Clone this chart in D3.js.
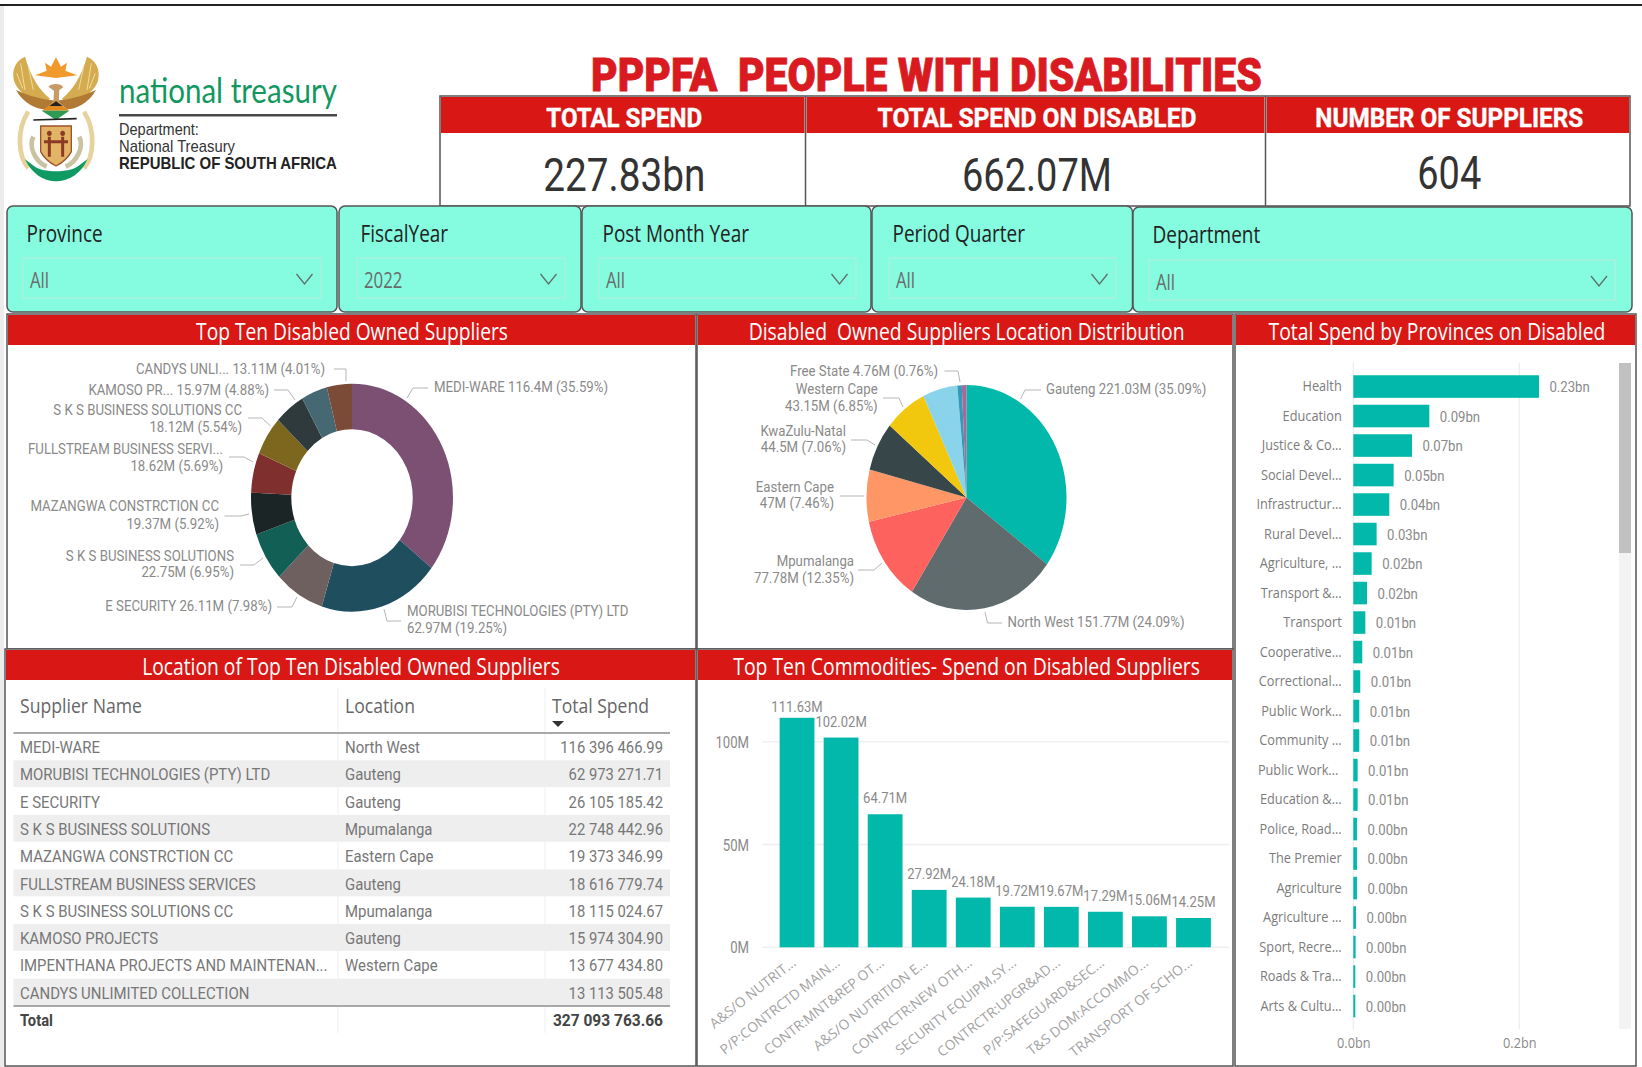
<!DOCTYPE html>
<html>
<head>
<meta charset="utf-8">
<title>PPPFA People With Disabilities</title>
<script src="https://cdn.jsdelivr.net/npm/d3@7"></script>
<style>
  html, body { margin: 0; padding: 0; background: #fff; }
  svg { display: block; }
  text { white-space: pre; }
</style>
</head>
<body>
<div id="chart"></div>
<script>
// data
var kpiTitles = ['TOTAL SPEND', 'TOTAL SPEND ON DISABLED', 'NUMBER OF SUPPLIERS'];
var kpiValues = ['227.83bn', '662.07M', '604'];

var slicerTitles = ['Province', 'FiscalYear', 'Post Month Year', 'Period Quarter', 'Department'];
var slicerValues = ['All', '2022', 'All', 'All', 'All'];

var donutNames = ['MEDI-WARE', 'MORUBISI TECHNOLOGIES (PTY) LTD', 'E SECURITY', 'S K S BUSINESS SOLUTIONS',
  'MAZANGWA CONSTRCTION CC', 'FULLSTREAM BUSINESS SERVI...', 'S K S BUSINESS SOLUTIONS CC', 'KAMOSO PR...',
  'IMPENTHANA', 'CANDYS UNLI...'];
var donutValues = [116.4, 62.97, 26.11, 22.75, 19.37, 18.62, 18.12, 15.97, 13.68, 13.11];
var donutValueLabels = ['116.4M', '62.97M', '26.11M', '22.75M', '19.37M', '18.62M', '18.12M', '15.97M', '', '13.11M'];
var donutPercents = ['35.59%', '19.25%', '7.98%', '6.95%', '5.92%', '5.69%', '5.54%', '4.88%', '', '4.01%'];
var donutColors = ['#7b5073', '#1f4e5f', '#6f6060', '#115f55', '#1c2526', '#7e2f2e', '#7d661d', '#2f3a3d', '#456873', '#7c4b37'];

var pieNames = ['Gauteng', 'North West', 'Mpumalanga', 'Eastern Cape', 'KwaZulu-Natal', 'Western Cape', 'Limpopo', 'Northern Cape', 'Free State'];
var pieValues = [221.03, 151.77, 77.78, 47, 44.5, 43.15, 35.4, 4.5, 4.76];
var pieValueLabels = ['221.03M', '151.77M', '77.78M', '47M', '44.5M', '43.15M', '', '', '4.76M'];
var piePercents = ['35.09%', '24.09%', '12.35%', '7.46%', '7.06%', '6.85%', '', '', '0.76%'];
var pieColors = ['#01b8aa', '#5f6b6d', '#fd625e', '#fe9666', '#374649', '#f2c80f', '#8ad4eb', '#3599b8', '#a66999'];

var tableSuppliers = ['MEDI-WARE', 'MORUBISI TECHNOLOGIES (PTY) LTD', 'E SECURITY', 'S K S BUSINESS SOLUTIONS',
  'MAZANGWA CONSTRCTION CC', 'FULLSTREAM BUSINESS SERVICES', 'S K S BUSINESS SOLUTIONS CC', 'KAMOSO PROJECTS',
  'IMPENTHANA PROJECTS AND MAINTENAN...', 'CANDYS UNLIMITED COLLECTION'];
var tableLocations = ['North West', 'Gauteng', 'Gauteng', 'Mpumalanga', 'Eastern Cape', 'Gauteng', 'Mpumalanga', 'Gauteng', 'Western Cape', ''];
var tableSpend = [116396466.99, 62973271.71, 26105185.42, 22748442.96, 19373346.99, 18616779.74, 18115024.67, 15974304.90, 13677434.80, 13113505.48];
var tableTotal = 327093763.66;

var commodityNames = ['A&S/O NUTRIT...', 'P/P:CONTRCTD MAIN...', 'CONTR:MNT&REP OT...', 'A&S/O NUTRITION E...', 'CONTRCTR:NEW OTH...',
  'SECURITY EQUIPM,SY...', 'CONTRCTR:UPGR&AD...', 'P/P:SAFEGUARD&SEC...', 'T&S DOM:ACCOMMO...', 'TRANSPORT OF SCHO...'];
var commodityValues = [111.63, 102.02, 64.71, 27.92, 24.18, 19.72, 19.67, 17.29, 15.06, 14.25];
var commodityTicks = [0, 50, 100];

var deptNames = ['Health', 'Education', 'Justice & Co...', 'Social Devel...', 'Infrastructur...', 'Rural Devel...', 'Agriculture, ...',
  'Transport &...', 'Transport', 'Cooperative...', 'Correctional...', 'Public Work...', 'Community ...', 'Public Work... ', 'Education &...',
  'Police, Road...', 'The Premier', 'Agriculture', 'Agriculture ...', 'Sport, Recre...', 'Roads & Tra...', 'Arts & Cultu...'];
var deptValues = [0.2237, 0.0916, 0.0707, 0.0486, 0.0434, 0.0281, 0.0221, 0.0165, 0.0145, 0.0108, 0.0084,
  0.0072, 0.0072, 0.0052, 0.0052, 0.0044, 0.0044, 0.0044, 0.0032, 0.0028, 0.0024, 0.0024];
var deptLabels = ['0.23bn', '0.09bn', '0.07bn', '0.05bn', '0.04bn', '0.03bn', '0.02bn', '0.02bn', '0.01bn', '0.01bn', '0.01bn',
  '0.01bn', '0.01bn', '0.01bn', '0.01bn', '0.00bn', '0.00bn', '0.00bn', '0.00bn', '0.00bn', '0.00bn', '0.00bn'];
var deptTicks = [0, 0.2];

var RED = '#d91715', MINT = '#85fbdf', TEAL = '#01b8aa', BORDER = '#555';
var DIN = 'Roboto, sans-serif', SEGOE = '"Open Sans", sans-serif';

var svg = d3.select('#chart').append('svg').attr('width', 1642).attr('height', 1067);

// text helper. the screenshot is stretched so everything is squeezed in x
function txt(parent, x, y, s, o) {
  o = o || {};
  var t = parent.append('text')
    .attr('text-anchor', o.anchor || 'start')
    .style('font-family', o.font || DIN)
    .style('font-size', (o.size || 14) + 'px')
    .style('font-weight', o.weight || 400)
    .style('fill', o.fill || '#888')
    .text(s);
  if (o.stroke) t.style('stroke', o.fill).style('stroke-width', o.stroke);
  var sx = o.sx || 1;
  if (o.w) sx = o.w / t.node().getComputedTextLength();
  t.attr('transform', 'translate(' + x + ',' + y + ') scale(' + sx + ',1)');
  return t;
}

// page frame
svg.append('rect').attr('x', 0).attr('y', 6).attr('width', 4).attr('height', 1061).attr('fill', '#ececec');
svg.append('rect').attr('x', 0).attr('y', 4).attr('width', 1642).attr('height', 2).attr('fill', '#222');

// logo (rough redraw of the crest)
var logo = svg.append('g').attr('transform', 'translate(0,40) scale(0.3333)');
logo.append('path').attr('d', 'M75,50 C48,62 34,88 42,122 C50,150 86,178 128,196 L150,176 C118,150 92,110 75,50Z').attr('fill', '#d4ab4e');
logo.append('path').attr('d', 'M261,50 C288,62 302,88 294,122 C286,150 250,178 208,196 L186,176 C218,150 244,110 261,50Z').attr('fill', '#d4ab4e');
logo.append('path').attr('d', 'M62,70 L75,150 M85,80 L100,150 M50,100 L68,145 M274,70 L261,150 M251,80 L236,150 M286,100 L268,145')
  .attr('fill', 'none').attr('stroke', '#f0dca0').attr('stroke-width', 3);
logo.append('path').attr('d', 'M48,150 C70,190 110,208 135,208 L165,182 C130,178 90,170 48,150Z').attr('fill', '#b07a35');
logo.append('path').attr('d', 'M288,150 C266,190 226,208 201,208 L171,182 C206,178 246,170 288,150Z').attr('fill', '#b07a35');
logo.append('path').attr('d', 'M105,106 L140,92 L135,68 L153,80 L168,52 L183,80 L201,68 L196,92 L232,106 L168,114Z').attr('fill', '#f09a2e');
logo.append('path').attr('d', 'M145,140 C155,128 185,130 190,142 L178,150 L176,190 L160,190 L162,152Z').attr('fill', '#c89a66');
logo.append('path').attr('d', 'M125,212 L168,182 L208,212Z').attr('fill', '#e08a20');
logo.append('path').attr('d', 'M125,212 L208,212 L168,240Z').attr('fill', '#2f9a55');
logo.append('path').attr('d', 'M148,198 L168,184 L188,198Z').attr('fill', '#222');
logo.append('path').attr('d', 'M100,240 L230,236').attr('stroke', '#222').attr('stroke-width', 5);
logo.append('path').attr('d', 'M85,215 C48,270 55,350 85,385').attr('fill', 'none').attr('stroke', '#e6d29c').attr('stroke-width', 14);
logo.append('path').attr('d', 'M252,215 C288,270 282,350 252,385').attr('fill', 'none').attr('stroke', '#e6d29c').attr('stroke-width', 14);
logo.append('path').attr('d', 'M100,290 C85,320 105,365 140,380').attr('fill', 'none').attr('stroke', '#c9c3a0').attr('stroke-width', 14);
logo.append('path').attr('d', 'M238,290 C252,320 232,365 197,380').attr('fill', 'none').attr('stroke', '#c9c3a0').attr('stroke-width', 14);
logo.append('path').attr('d', 'M122,258 L214,258 L214,335 Q200,362 168,378 Q136,362 122,335Z').attr('fill', '#e2b566').attr('stroke', '#a0522d').attr('stroke-width', 4);
logo.append('ellipse').attr('cx', 148).attr('cy', 280).attr('rx', 7).attr('ry', 8).attr('fill', '#8c3a25');
logo.append('ellipse').attr('cx', 188).attr('cy', 280).attr('rx', 7).attr('ry', 8).attr('fill', '#8c3a25');
logo.append('path').attr('d', 'M148,290 L148,350 M188,290 L188,350 M132,305 L204,305').attr('stroke', '#8c3a25').attr('stroke-width', 9);
logo.append('path').attr('d', 'M75,358 C100,410 140,424 168,424 C196,424 240,410 262,358 L232,380 C205,398 130,398 105,380Z').attr('fill', '#0f9a63');

txt(svg, 119, 102.5, 'national treasury', { font: 'Lato, sans-serif', size: 34, fill: '#12985f', w: 218 });
svg.append('rect').attr('x', 119).attr('y', 114).attr('width', 218).attr('height', 2.5).attr('fill', '#4a4a4a');
txt(svg, 119, 135, 'Department:', { font: '"Liberation Sans"', size: 16, fill: '#333', w: 80 });
txt(svg, 119, 152, 'National Treasury', { font: '"Liberation Sans"', size: 16, fill: '#333', w: 116 });
txt(svg, 119, 169, 'REPUBLIC OF SOUTH AFRICA', { font: '"Liberation Sans"', size: 16, weight: 700, fill: '#222', w: 218 });

// title
txt(svg, 591, 91, 'PPPFA  PEOPLE WITH DISABILITIES', { size: 47, weight: 900, fill: '#d91a20', w: 671, stroke: 0.8 });

// kpi cards
var kpiX = [440, 805.5, 1265.5, 1630];
var kpiW = [156, 319, 268], kpiValW = [162, 150, 64], kpiBase = [190.5, 190.5, 189];
svg.append('rect').attr('x', 440).attr('y', 96).attr('width', 1190).attr('height', 110).attr('fill', '#fff').attr('stroke', BORDER).attr('stroke-width', 1.5);
kpiTitles.forEach(function (d, i) {
  var mid = (kpiX[i] + kpiX[i + 1]) / 2 + 1.5;
  svg.append('rect').attr('x', kpiX[i] + 1).attr('y', 97).attr('width', kpiX[i + 1] - kpiX[i] - 2).attr('height', 36).attr('fill', RED);
  txt(svg, mid, 126.5, d, { anchor: 'middle', size: 26, weight: 700, fill: '#fff', w: kpiW[i], stroke: 0.4 });
  txt(svg, mid, kpiBase[i], kpiValues[i], { anchor: 'middle', size: 46, fill: '#333', w: kpiValW[i] });
  if (i) svg.append('line').attr('x1', kpiX[i]).attr('x2', kpiX[i]).attr('y1', 96).attr('y2', 206).attr('stroke', BORDER).attr('stroke-width', 1.5);
});

// slicers
var slicerBox = [[7, 337], [339, 581], [582, 871], [872, 1132.5], [1133, 1632]];
var slicerDrop = [[23, 321], [357, 565], [599, 856], [889, 1116], [1149, 1615.5]];
slicerTitles.forEach(function (d, i) {
  var dy = i === 4 ? 1 : 0;
  var g = svg.append('g');
  g.append('rect').attr('x', slicerBox[i][0]).attr('y', 206 + dy).attr('width', slicerBox[i][1] - slicerBox[i][0]).attr('height', 106 - dy)
    .attr('rx', 6).attr('fill', MINT).attr('stroke', BORDER).attr('stroke-width', 1.5);
  g.append('rect').attr('x', slicerDrop[i][0]).attr('y', 258 + dy * 2).attr('width', slicerDrop[i][1] - slicerDrop[i][0]).attr('height', 40)
    .attr('fill', 'none').attr('stroke', '#a9f2de').attr('stroke-width', 1.5);
  txt(g, slicerDrop[i][0] + 3.5, 242 + dy, d, { font: SEGOE, size: 23, fill: '#222', sx: 0.825 });
  txt(g, slicerDrop[i][0] + 7, 287.5 + dy * 2, slicerValues[i], { font: SEGOE, size: 21, fill: '#6b6b6b', sx: 0.8 });
  var cx = slicerDrop[i][1] - 16.5, cy = 274 + dy * 2;
  g.append('polyline').attr('points', [[cx - 8, cy], [cx, cy + 10], [cx + 8, cy]].join(' '))
    .attr('fill', 'none').attr('stroke', '#5f6f6a').attr('stroke-width', 1.3);
});

// panels
var panels = [
  { x0: 7, x1: 696, y0: 314, y1: 649, mid: 352, base: 339.5, w: 312, title: 'Top Ten Disabled Owned Suppliers' },
  { x0: 697, x1: 1233, y0: 314, y1: 649, mid: 966.6, base: 339.5, w: 436, title: 'Disabled  Owned Suppliers Location Distribution' },
  { x0: 1235, x1: 1636, y0: 314, y1: 1066, mid: 1437, base: 339.5, w: 337, title: 'Total Spend by Provinces on Disabled' },
  { x0: 5, x1: 696, y0: 649, y1: 1066, mid: 351, base: 675, w: 418, title: 'Location of Top Ten Disabled Owned Suppliers' },
  { x0: 697, x1: 1233, y0: 649, y1: 1066, mid: 966.6, base: 675, w: 467, title: 'Top Ten Commodities- Spend on Disabled Suppliers' }
];
panels.forEach(function (p) {
  svg.append('rect').attr('x', p.x0).attr('y', p.y0).attr('width', p.x1 - p.x0).attr('height', p.y1 - p.y0)
    .attr('fill', '#fff').attr('stroke', BORDER).attr('stroke-width', 1.5);
  svg.append('rect').attr('x', p.x0 + 1).attr('y', p.y0 + 1).attr('width', p.x1 - p.x0 - 2).attr('height', 30).attr('fill', RED);
  txt(svg, p.mid, p.base, p.title, { anchor: 'middle', font: SEGOE, size: 23, fill: '#fff', w: p.w });
});

// leader line + one or two lines of text
function callout(g, pts, lines, anchor, x, bases) {
  g.append('polyline').attr('points', pts.join(' ')).attr('fill', 'none').attr('stroke', '#b5b5b5').attr('stroke-width', 1);
  lines.forEach(function (l, i) {
    txt(g, x, bases[i], l, { anchor: anchor, size: 14, fill: '#8a8a8a', sx: 0.945 });
  });
}

// donut, the screenshot is stretched so the ring is an ellipse
var donutG = svg.append('g');
var donutRing = donutG.append('g').attr('transform', 'translate(352,497.7) scale(0.886,1)');
var donutPie = d3.pie().sort(null);
var donutArc = d3.arc().innerRadius(68.5).outerRadius(114);
donutRing.selectAll('path').data(donutPie(donutValues)).enter().append('path')
  .attr('d', donutArc)
  .attr('fill', function (d, i) { return donutColors[i]; });

function donutText(i) { return donutValueLabels[i] + ' (' + donutPercents[i] + ')'; }
callout(donutG, [[334, 369], [346, 369], [346, 381]], [donutNames[9] + ' ' + donutText(9)], 'end', 325, [374]);
callout(donutG, [[274, 390], [288, 390], [295, 400]], [donutNames[7] + ' ' + donutText(7)], 'end', 269, [395]);
callout(donutG, [[248, 418], [262, 418], [270.5, 426]], [donutNames[6], donutText(6)], 'end', 242, [415, 432]);
callout(donutG, [[229, 457], [244, 457], [253, 462]], [donutNames[5], donutText(5)], 'end', 223, [454, 471]);
callout(donutG, [[224.5, 516], [241, 516], [249, 514]], [donutNames[4], donutText(4)], 'end', 219, [511, 529]);
callout(donutG, [[240, 565], [254, 565], [263, 558]], [donutNames[3], donutText(3)], 'end', 234, [561, 577]);
callout(donutG, [[277, 607], [292, 607], [297, 597]], [donutNames[2] + ' ' + donutText(2)], 'end', 272, [611]);
callout(donutG, [[401, 621], [387, 621], [384, 609]], [donutNames[1], donutText(1)], 'start', 407, [616, 633]);
callout(donutG, [[428, 388], [413, 388], [407, 398]], [donutNames[0] + ' ' + donutText(0)], 'start', 434, [392]);

// pie
var pieG = svg.append('g');
var pieDisc = pieG.append('g').attr('transform', 'translate(966.5,497.5) scale(0.889,1)');
var piePie = d3.pie().sort(null);
var pieArc = d3.arc().innerRadius(0).outerRadius(112.5);
pieDisc.selectAll('path').data(piePie(pieValues)).enter().append('path')
  .attr('d', pieArc)
  .attr('fill', function (d, i) { return pieColors[i]; });

function pieText(i) { return pieValueLabels[i] + ' (' + piePercents[i] + ')'; }
callout(pieG, [[944.4, 371], [958, 371], [960, 382]], [pieNames[8] + ' ' + pieText(8)], 'end', 938, [376]);
callout(pieG, [[883, 398], [899, 398], [903, 407]], [pieNames[5], pieText(5)], 'end', 877.7, [394, 411]);
callout(pieG, [[851, 440], [867, 440], [875, 445]], [pieNames[4], pieText(4)], 'end', 846, [436, 452]);
callout(pieG, [[840, 496], [864, 496]], [pieNames[3], pieText(3)], 'end', 834, [492, 508]);
callout(pieG, [[858, 570], [874, 570], [882, 563]], [pieNames[2], pieText(2)], 'end', 854, [566, 583]);
callout(pieG, [[1002, 623], [987.5, 623], [985, 612]], [pieNames[1] + ' ' + pieText(1)], 'start', 1007.5, [627]);
callout(pieG, [[1041, 390], [1025, 390], [1020.5, 399]], [pieNames[0] + ' ' + pieText(0)], 'start', 1046, [394]);

// table
var fmt = d3.formatLocale({ decimal: '.', thousands: ' ', grouping: [3], currency: ['', ''] }).format(',.2f');
var tableG = svg.append('g');
var rowY = d3.scaleLinear().domain([0, 10]).range([733, 1006]);
tableSuppliers.forEach(function (d, i) {
  if (i % 2) tableG.append('rect').attr('x', 13.5).attr('y', rowY(i)).attr('width', 656.5).attr('height', rowY(1) - rowY(0) - 0.5).attr('fill', '#eeeeee');
});
[338, 545].forEach(function (x) {
  tableG.append('line').attr('x1', x).attr('x2', x).attr('y1', 688).attr('y2', 1033).attr('stroke', '#efefef').attr('stroke-width', 1);
});
[733, 1006].forEach(function (y) {
  tableG.append('line').attr('x1', 13.5).attr('x2', 670).attr('y1', y).attr('y2', y).attr('stroke', '#a8a8a8').attr('stroke-width', 1.8);
});
txt(tableG, 20, 713, 'Supplier Name', { font: SEGOE, size: 20, fill: '#666', w: 122 });
txt(tableG, 345, 713, 'Location', { font: SEGOE, size: 20, fill: '#666', w: 70 });
txt(tableG, 552, 713, 'Total Spend', { font: SEGOE, size: 20, fill: '#666', w: 97 });
tableG.append('path').attr('d', 'M552,721 L564,721 L558,727Z').attr('fill', '#333');
tableSuppliers.forEach(function (d, i) {
  var y = rowY(i) + 20;
  txt(tableG, 20, y, d, { size: 16, fill: '#777', sx: 0.935 });
  txt(tableG, 345, y, tableLocations[i], { size: 16, fill: '#777', sx: 0.935 });
  txt(tableG, 663, y, fmt(tableSpend[i]), { anchor: 'end', size: 16, fill: '#777', sx: 0.925 });
});
txt(tableG, 20, 1026, 'Total', { size: 16, weight: 700, fill: '#444', sx: 0.92 });
txt(tableG, 663, 1026, fmt(tableTotal), { anchor: 'end', size: 16, weight: 700, fill: '#444', sx: 0.97 });

// commodities column chart
var colG = svg.append('g');
var colX = d3.scaleBand().domain(commodityNames).range([775, 1215.5]).paddingInner(0.21).paddingOuter(0.105);
var colY = d3.scaleLinear().domain([0, 100]).range([947.3, 741.7]);

colG.append('g').selectAll('line').data(commodityTicks).enter().append('line')
  .attr('x1', 762).attr('x2', 1229)
  .attr('y1', function (d) { return colY(d); }).attr('y2', function (d) { return colY(d); })
  .attr('stroke', '#efefef').attr('stroke-width', 1.5);

var colYAxis = colG.append('g').attr('transform', 'translate(749,0.5)')
  .call(d3.axisLeft(colY).tickValues(commodityTicks).tickFormat(function (d) { return d + 'M'; }).tickSize(0).tickPadding(0));
colYAxis.select('.domain').remove();
colYAxis.selectAll('text')
  .attr('transform', 'scale(0.82,1)')
  .style('font-family', DIN).style('font-size', '16px').style('fill', '#8a8a8a');

colG.selectAll('rect.bar').data(commodityValues).enter().append('rect').attr('class', 'bar')
  .attr('x', function (d, i) { return colX(commodityNames[i]); })
  .attr('width', colX.bandwidth())
  .attr('y', function (d) { return colY(d); })
  .attr('height', function (d) { return colY(0) - colY(d); })
  .attr('fill', TEAL);

commodityValues.forEach(function (d, i) {
  txt(colG, colX(commodityNames[i]) + colX.bandwidth() / 2, colY(d) - (i === 0 ? 6 : 11), d3.format('.2f')(d) + 'M',
    { anchor: 'middle', size: 14, fill: '#8a8a8a', sx: 0.93 });
});

var colXAxis = colG.append('g').attr('transform', 'translate(0,958)')
  .call(d3.axisBottom(colX).tickSize(0).tickPadding(0));
colXAxis.select('.domain').remove();
colXAxis.selectAll('text')
  .attr('text-anchor', 'end').attr('y', 0).attr('dy', '0.32em')
  .attr('transform', 'translate(-3,3) rotate(-38)')
  .style('font-family', SEGOE).style('font-size', '13.8px').style('fill', '#a3a3a3');

// departments bar chart
var barG = svg.append('g');
var barX = d3.scaleLinear().domain([0, 0.2]).range([1353.3, 1519.3]);
var barY = d3.scaleBand().domain(d3.range(deptNames.length)).range([371.8, 1020.8]).paddingInner(0.235).paddingOuter(0.117);

barG.append('rect').attr('x', 1619).attr('y', 363).attr('width', 12).attr('height', 666).attr('fill', '#f3f3f3');
barG.append('rect').attr('x', 1619).attr('y', 363).attr('width', 12).attr('height', 190).attr('fill', '#c1c1c1');

barG.append('g').selectAll('line').data(deptTicks).enter().append('line')
  .attr('x1', function (d) { return barX(d); }).attr('x2', function (d) { return barX(d); })
  .attr('y1', 363).attr('y2', 1029)
  .attr('stroke', '#efefef').attr('stroke-width', 1.5);

barG.selectAll('rect.bar').data(deptValues).enter().append('rect').attr('class', 'bar')
  .attr('x', barX(0))
  .attr('y', function (d, i) { return barY(i); })
  .attr('width', function (d) { return barX(d) - barX(0); })
  .attr('height', barY.bandwidth())
  .attr('fill', TEAL);

var barYAxis = barG.append('g').attr('transform', 'translate(1341.7,0)')
  .call(d3.axisLeft(barY).tickFormat(function (i) { return deptNames[i]; }).tickSize(0).tickPadding(0));
barYAxis.select('.domain').remove();
barYAxis.selectAll('text')
  .attr('transform', 'scale(0.88,1)')
  .style('font-family', SEGOE).style('font-size', '14.5px').style('fill', '#7c7c7c');

deptValues.forEach(function (d, i) {
  txt(barG, barX(d) + 10.5, barY(i) + barY.bandwidth() / 2 + 5.5, deptLabels[i], { size: 14, fill: '#8a8a8a', sx: 0.94 });
});

var barXAxis = barG.append('g').attr('transform', 'translate(0,1037)')
  .call(d3.axisBottom(barX).tickValues(deptTicks).tickFormat(function (d) { return d3.format('.1f')(d) + 'bn'; }).tickSize(0).tickPadding(0));
barXAxis.select('.domain').remove();
barXAxis.selectAll('text')
  .attr('transform', 'scale(0.85,1)')
  .style('font-family', SEGOE).style('font-size', '15px').style('fill', '#8a8a8a');
</script>
</body>
</html>
